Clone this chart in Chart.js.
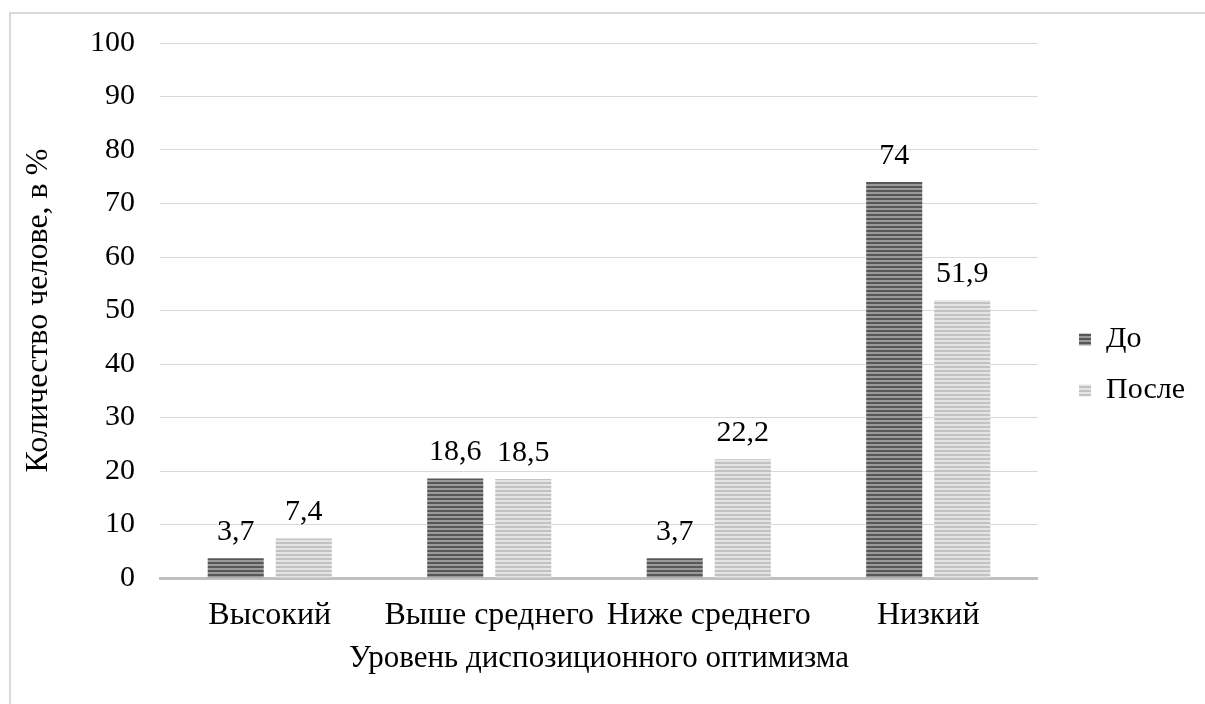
<!DOCTYPE html>
<html><head><meta charset="utf-8">
<script src="https://cdn.jsdelivr.net/npm/chart.js@4/dist/chart.umd.min.js"></script>
<style>
html,body{margin:0;padding:0;background:#fff;width:1205px;height:704px;overflow:hidden;}
#box{position:absolute;left:9px;top:12px;width:1200px;height:700px;border-top:2px solid #d9d9d9;border-left:2px solid #d9d9d9;}
#wrap{position:absolute;left:0;top:0;width:1194px;height:690px;}
</style></head>
<body>
<div id="box"><div id="wrap"><canvas id="c"></canvas></div></div>
<script>
const categories = ['Высокий', 'Выше среднего', 'Ниже среднего', 'Низкий'];
const seriesNames = ['До', 'После'];
const before = [3.7, 18.6, 3.7, 74];
const after = [7.4, 18.5, 22.2, 51.9];
const yTicks = [0, 10, 20, 30, 40, 50, 60, 70, 80, 90, 100];

const FONT = "'Liberation Serif', 'Times New Roman', serif";

function stripes(c1, c2) {
  const p = document.createElement('canvas');
  p.width = 4; p.height = 4;
  const x = p.getContext('2d');
  x.fillStyle = c1; x.fillRect(0, 0, 4, 2);
  x.fillStyle = c2; x.fillRect(0, 2, 4, 2);
  return document.getElementById('c').getContext('2d').createPattern(p, 'repeat');
}
const darkPat = stripes('#575757', '#9a9a9a');
const lightPat = stripes('#c2c2c2', '#e4e4e4');

const labelPlugin = {
  id: 'vals',
  afterDatasetsDraw(chart) {
    const ctx = chart.ctx;
    ctx.save();
    ctx.font = '30px ' + FONT;
    ctx.fillStyle = '#000';
    ctx.textAlign = 'center';
    ctx.textBaseline = 'alphabetic';
    chart.data.datasets.forEach((ds, i) => {
      chart.getDatasetMeta(i).data.forEach((el, j) => {
        ctx.fillText(String(ds.data[j]).replace('.', ','), el.x, el.y - 18);
      });
    });
    ctx.restore();
  }
};

const LEGEND_EXTRA = 26, LEGEND_SHIFT = 20, LEGEND_DY = 5;
const legendShift = {
  id: 'legendShift',
  beforeLayout(chart) {
    const lg = chart.legend;
    if (lg && !lg._patched) {
      const orig = lg.fit.bind(lg);
      lg.fit = function () { orig(); this.width += LEGEND_EXTRA; };
      lg._patched = true;
    }
  },
  afterLayout(chart) {
    const lg = chart.legend;
    if (lg) { lg.left += LEGEND_SHIFT; lg.top += LEGEND_DY; lg.bottom += LEGEND_DY; }
  }
};

new Chart(document.getElementById('c'), {
  type: 'bar',
  data: {
    labels: categories,
    datasets: [
      { label: seriesNames[0], data: before, backgroundColor: darkPat },
      { label: seriesNames[1], data: after, backgroundColor: lightPat }
    ]
  },
  options: {
    responsive: true,
    maintainAspectRatio: false,
    animation: false,
    categoryPercentage: 0.62,
    barPercentage: 0.824,
    layout: { padding: { top: 29, right: 4, left: 0, bottom: 27 } },
    plugins: {
      legend: {
        position: 'right',
        labels: {
          font: { family: FONT, size: 30 },
          color: '#000',
          boxWidth: 12,
          boxHeight: 12,
          padding: 21
        }
      },
      tooltip: { enabled: false }
    },
    scales: {
      x: {
        grid: { display: false },
        border: { color: '#bfbfbf', width: 3 },
        afterFit(axis) { axis.height = 99; },
        ticks: { color: '#000', font: { family: FONT, size: 32 }, maxRotation: 0, autoSkip: false, padding: 10 },
        title: { display: true, text: 'Уровень диспозиционного оптимизма', color: '#000', font: { family: FONT, size: 31 }, padding: { top: 4, bottom: 0 } }
      },
      y: {
        min: 0, max: 100,
        afterBuildTicks(axis) { axis.ticks = yTicks.map(v => ({ value: v })); },
        afterFit(axis) { axis.width = 149; axis.paddingTop = 0; axis.paddingBottom = 0; },
        grid: { color: '#d9d9d9', lineWidth: 1, drawTicks: false },
        border: { display: false },
        ticks: { color: '#000', font: { family: FONT, size: 30 }, padding: 25 },
        title: { display: true, text: 'Количество челове, в %', color: '#000', font: { family: FONT, size: 32 }, padding: { top: 8, bottom: 0 } }
      }
    }
  },
  plugins: [labelPlugin, legendShift]
});
</script>
</body></html>
